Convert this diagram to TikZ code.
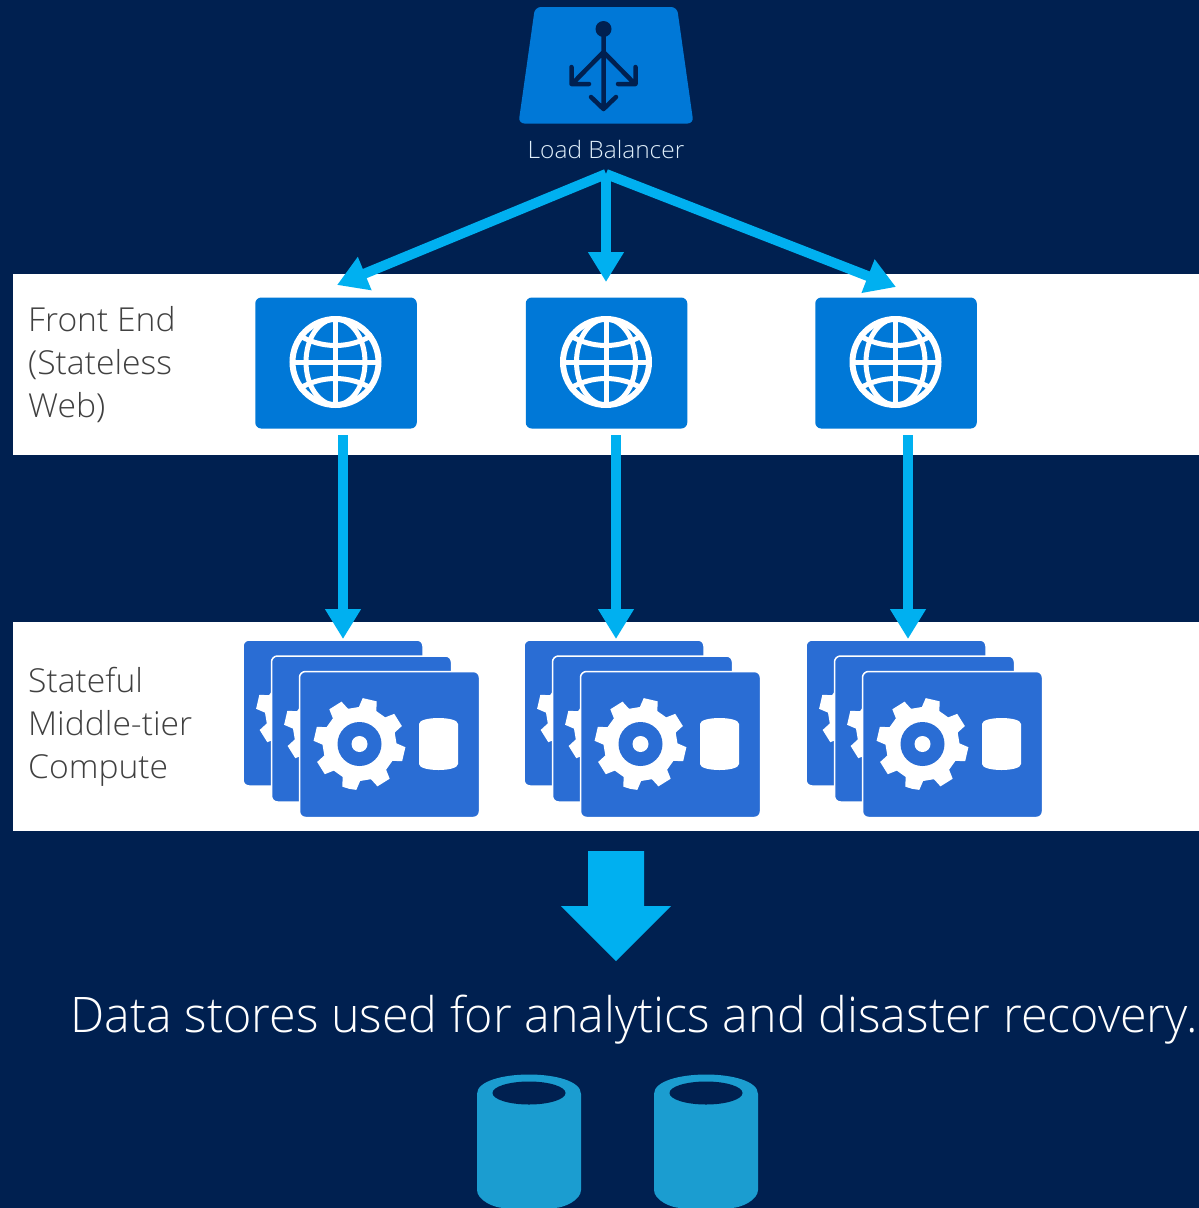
\documentclass[tikz,border=0pt]{standalone}
\usepackage{fontspec}
\setmainfont{Open Sans Light}[FakeStretch=1.02]
\newfontfamily\widelight{Open Sans Light}[FakeStretch=0.988]
\usetikzlibrary{arrows.meta,calc}
\definecolor{bgnavy}{HTML}{002050}
\definecolor{azure}{HTML}{0078D7}
\definecolor{cardblue}{HTML}{2A6DD4}
\definecolor{arrowcyan}{HTML}{00B0F0}
\definecolor{cylblue}{HTML}{1B9DD0}
\definecolor{labelgray}{HTML}{404040}
\tikzset{
  flowarrow/.style={draw=arrowcyan,line width=10pt,-{Triangle[length=30pt,width=34pt]}},
  band/.style={fill=white,draw=none},
  webcard/.style={fill=azure,draw=none,rounded corners=6pt,minimum width=161.5pt,minimum height=131pt,inner sep=0pt},
  svccard/.style={fill=cardblue,draw=white,line width=1.5pt,rounded corners=6pt,minimum width=180pt,minimum height=146pt,inner sep=0pt},
  bandlabel/.style={text=labelgray,font=\fontsize{33}{43}\selectfont,align=left,anchor=west,inner sep=0pt},
  lbglyph/.style={draw=bgnavy,line width=4.5pt,line cap=round,line join=round},
  globeline/.style={draw=white,line width=5pt},
}
\newcommand{\globeicon}[1]{%
  \begin{scope}[shift={(#1)}]
    \draw[white,line width=6pt] (0,0) circle (43pt);
    \draw[globeline,line width=5pt] (0,0) ellipse (29.5pt and 43pt);
    \draw[globeline,line width=5pt] (0,-43pt) -- (0,43pt) (-43pt,0) -- (43pt,0);
    \draw[globeline,line width=5pt] (-37pt,-27pt) .. controls (-14pt,-13pt) and (14pt,-13pt) .. (37pt,-27pt);
    \draw[globeline,line width=5pt] (-37pt,27pt) .. controls (-14pt,13pt) and (14pt,13pt) .. (37pt,27pt);
  \end{scope}}
\newcommand{\gearshape}[1]{%
  \begin{scope}[shift={(#1)}]
    \fill[white,line join=round]
      (-103:46pt)
      \foreach \k in {0,...,7} {
        -- ({-103+45*\k+9}:46pt) -- ({-103+45*\k+14}:37pt) -- ({-103+45*\k+31}:37pt) -- ({-103+45*\k+36}:46pt)
      } -- cycle;
    \fill[cardblue] (0,0) circle (22pt);
    \fill[white] (0,0) circle (8pt);
  \end{scope}}
\newcommand{\dbicon}[1]{%
  \begin{scope}[shift={(#1)}]
    \fill[white] (-19.5pt,-20pt) .. controls (-19.5pt,-28pt) and (19.5pt,-28pt) .. (19.5pt,-20pt)
      -- (19.5pt,20pt) .. controls (19.5pt,28pt) and (-19.5pt,28pt) .. (-19.5pt,20pt) -- cycle;
  \end{scope}}
\newcommand{\svcstack}[2]{% name, x offset
  \node[svccard] (#1a) at (333+#2,713) {};
  \gearshape{302+#2,712}
  \node[svccard] (#1b) at (361.5+#2,729) {};
  \gearshape{330+#2,728}
  \node[svccard] (#1c) at (389.5+#2,744.5) {};
  \gearshape{359.5+#2,744}
  \dbicon{438.5+#2,744}
}
\newcommand{\bigcyl}[1]{%
  \fill[cylblue] (#1-52,1094) .. controls (#1-52,1068) and (#1+52,1068) .. (#1+52,1094)
    -- (#1+52,1190) .. controls (#1+52,1200) and (#1+35,1208) .. (#1+25,1208)
    -- (#1-25,1208) .. controls (#1-35,1208) and (#1-52,1200) .. (#1-52,1190) -- cycle;
  \fill[bgnavy] (#1,1093) ellipse (36.5pt and 11.5pt);
}
\begin{document}
\begin{tikzpicture}[x=1pt,y=-1pt]
  \useasboundingbox (0,0) rectangle (1199,1208);
  \fill[bgnavy] (0,0) rectangle (1199,1208);
  % bands
  \fill[band] (13,274) rectangle (1199,455);
  \fill[band] (13,622) rectangle (1199,831);
  % load balancer
  \fill[azure,rounded corners=6pt] (535,7) -- (677,7) -- (693.5,123.5) -- (518.5,123.5) -- cycle;
  \fill[bgnavy] (603.5,29) circle (8pt);
  \draw[lbglyph] (603.5,30) -- (603.5,109)
     (573,83) -- (603.5,52) -- (634,83)
     (571.5,67) -- (571.5,84) -- (589,84)
     (635.5,67) -- (635.5,84) -- (618,84)
     (591,97) -- (603.5,109) -- (616,97);
  \node[text=white!88!azure,font=\fontsize{24}{28}\selectfont,inner sep=0pt] (lb) at (606,149) {Load Balancer};
  \coordinate (lbout) at (606,174);
  \coordinate (c1) at (337,285);
  \coordinate (c2) at (606,282);
  \coordinate (c3) at (896,287);
  % front end
  \node[webcard] (fe1) at (336,363) {};
  \node[webcard] (fe2) at (606.5,363) {};
  \node[webcard] (fe3) at (896,363) {};
  \globeicon{335.5,362}
  \globeicon{606,362}
  \globeicon{895.5,362}
  % stacks
  \svcstack{sa}{0}
  \svcstack{sb}{281}
  \svcstack{sc}{563}
  % labels
  \node[bandlabel] (felabel) at (28,365) {Front End\\(Stateless\\Web)};
  \node[bandlabel] (mtlabel) at (28,727) {Stateful\\Middle-tier\\Compute};
  % connectors
  \draw[flowarrow] (lbout) -- (c1);
  \draw[flowarrow] (lbout) -- (c2);
  \draw[flowarrow] (lbout) -- (c3);
  \coordinate (d1) at (343,435); \coordinate (e1) at (343,639);
  \coordinate (d2) at (616,435); \coordinate (e2) at (616,639);
  \coordinate (d3) at (908,435); \coordinate (e3) at (908,639);
  \draw[flowarrow] (d1) -- (e1);
  \draw[flowarrow] (d2) -- (e2);
  \draw[flowarrow] (d3) -- (e3);
  % big arrow
  \fill[arrowcyan] (588,851) -- (644,851) -- (644,906) -- (671,906) -- (616,961) -- (561,906) -- (588,906) -- cycle;
  \node[text=white,font=\widelight\fontsize{49}{58}\selectfont,inner sep=0pt,anchor=base west] (dslabel) at (70,1032) {Data stores used for analytics and disaster recovery.};
  \bigcyl{529}
  \bigcyl{706}
\end{tikzpicture}
\end{document}
